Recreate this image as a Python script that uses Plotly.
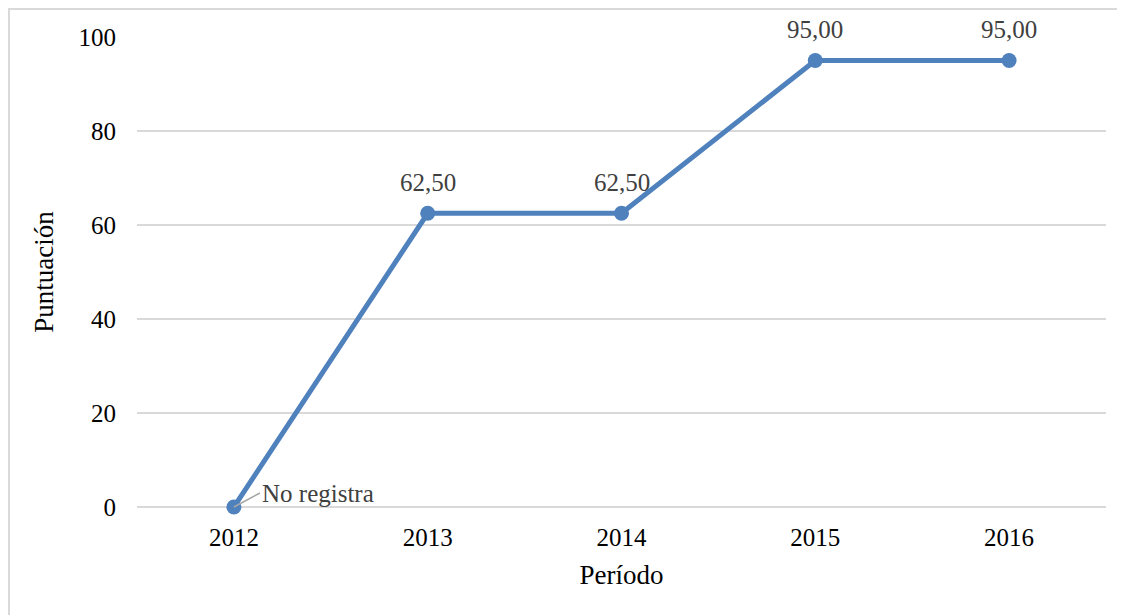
import plotly.graph_objects as go

periodos = ["2012", "2013", "2014", "2015", "2016"]
puntuacion = [0, 62.5, 62.5, 95, 95]
etiquetas = ["No registra", "62,50", "62,50", "95,00", "95,00"]
y_ticks = [0, 20, 40, 60, 80, 100]

line_color = "#4F81BD"
serif = "Liberation Serif, Times New Roman, serif"

fig = go.Figure()
fig.add_trace(go.Scatter(
    x=periodos, y=puntuacion, mode="lines+markers",
    line=dict(color=line_color, width=5),
    marker=dict(color=line_color, size=15),
    cliponaxis=False, hoverinfo="skip", showlegend=False,
))

for i, (yv, lab) in enumerate(zip(puntuacion, etiquetas)):
    if yv == 0:
        fig.add_annotation(
            x=i, y=yv, xref="x", yref="y", text=lab, showarrow=True,
            arrowhead=0, arrowwidth=1.5, arrowcolor="#A6A6A6", ax=26, ay=-14,
            xanchor="left", yanchor="middle",
            font=dict(family=serif, size=25, color="#404040"),
        )
    else:
        fig.add_annotation(
            x=i, y=yv, xref="x", yref="y", text=lab, showarrow=False,
            yshift=31,
            font=dict(family=serif, size=25, color="#404040"),
        )

# outer chart border
fig.add_shape(type="rect", xref="paper", yref="paper",
              x0=-0.1321, x1=1.05, y0=-0.26, y1=1.0596,
              line=dict(color="#D9D9D9", width=2), layer="below")

fig.update_layout(
    width=1117, height=607,
    margin=dict(l=129, r=19, t=29, b=108),
    plot_bgcolor="white", paper_bgcolor="white",
    font=dict(family=serif, color="black"),
)
fig.update_xaxes(
    type="category", range=[-0.5, 4.5], showgrid=False, showline=False,
    zeroline=False, ticks="", ticklabelstandoff=13,
    tickfont=dict(size=25, color="black"),
    title=dict(text="Período", font=dict(size=27, color="black"), standoff=15),
)
fig.update_yaxes(
    range=[0, 100], tickvals=y_ticks, showgrid=True, gridcolor="#D9D9D9",
    gridwidth=1.5, zeroline=True, zerolinecolor="#D9D9D9", zerolinewidth=1.5,
    showline=False, ticks="", ticklabelstandoff=20,
    tickfont=dict(size=25, color="black"),
    title=dict(text="Puntuación", font=dict(size=27, color="black"), standoff=17),
)

fig.write_html("out.html")
